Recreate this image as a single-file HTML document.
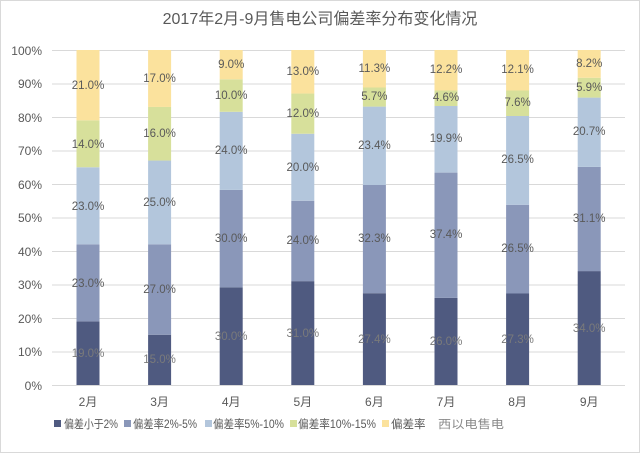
<!DOCTYPE html>
<html><head><meta charset="utf-8"><style>
html,body{margin:0;padding:0;background:#fff}
svg{display:block;font-family:"Liberation Sans","Noto Sans CJK SC",sans-serif}
</style></head><body>
<svg width="640" height="453" viewBox="0 0 640 453" xmlns="http://www.w3.org/2000/svg">
<rect x="0.5" y="0.5" width="639" height="452" fill="#fff" stroke="#d9d9d9"/>
<text x="320" y="24" text-anchor="middle" font-size="16" fill="#595959">2017年2月-9月售电公司偏差率分布变化情况</text>
<g stroke="#d9d9d9" stroke-width="1">
<line x1="52" x2="625" y1="50.5" y2="50.5"/><line x1="52" x2="625" y1="84" y2="84"/><line x1="52" x2="625" y1="117.5" y2="117.5"/><line x1="52" x2="625" y1="151" y2="151"/><line x1="52" x2="625" y1="184.5" y2="184.5"/><line x1="52" x2="625" y1="218" y2="218"/><line x1="52" x2="625" y1="251.5" y2="251.5"/><line x1="52" x2="625" y1="285" y2="285"/><line x1="52" x2="625" y1="318.5" y2="318.5"/><line x1="52" x2="625" y1="352" y2="352"/><line x1="52" x2="625" y1="385.5" y2="385.5"/>
</g>
<g font-size="12" fill="#595959" text-anchor="end">
<text x="42" y="55">100%</text><text x="42" y="88">90%</text><text x="42" y="122">80%</text><text x="42" y="155">70%</text><text x="42" y="189">60%</text><text x="42" y="222">50%</text><text x="42" y="256">40%</text><text x="42" y="289">30%</text><text x="42" y="323">20%</text><text x="42" y="356">10%</text><text x="42" y="390">0%</text>
</g>
<g>
<rect x="76.5" y="321.35" width="23" height="63.65" fill="#4f5a80"/><rect x="76.5" y="244.3" width="23" height="77.05" fill="#8a97b9"/><rect x="76.5" y="167.25" width="23" height="77.05" fill="#b3c6dc"/><rect x="76.5" y="120.35" width="23" height="46.9" fill="#d7e09b"/><rect x="76.5" y="50" width="23" height="70.35" fill="#fbe29d"/>
<rect x="148.1" y="334.75" width="23" height="50.25" fill="#4f5a80"/><rect x="148.1" y="244.3" width="23" height="90.45" fill="#8a97b9"/><rect x="148.1" y="160.55" width="23" height="83.75" fill="#b3c6dc"/><rect x="148.1" y="106.95" width="23" height="53.6" fill="#d7e09b"/><rect x="148.1" y="50" width="23" height="56.95" fill="#fbe29d"/>
<rect x="219.7" y="287.4" width="23" height="97.6" fill="#4f5a80"/><rect x="219.7" y="189.9" width="23" height="97.5" fill="#8a97b9"/><rect x="219.7" y="111.8" width="23" height="78.1" fill="#b3c6dc"/><rect x="219.7" y="79.3" width="23" height="32.5" fill="#d7e09b"/><rect x="219.7" y="50" width="23" height="29.3" fill="#fbe29d"/>
<rect x="291.3" y="281.15" width="23" height="103.85" fill="#4f5a80"/><rect x="291.3" y="200.75" width="23" height="80.4" fill="#8a97b9"/><rect x="291.3" y="133.75" width="23" height="67" fill="#b3c6dc"/><rect x="291.3" y="93.55" width="23" height="40.2" fill="#d7e09b"/><rect x="291.3" y="50" width="23" height="43.55" fill="#fbe29d"/>
<rect x="362.9" y="293.2" width="23" height="91.8" fill="#4f5a80"/><rect x="362.9" y="185" width="23" height="108.2" fill="#8a97b9"/><rect x="362.9" y="106.6" width="23" height="78.4" fill="#b3c6dc"/><rect x="362.9" y="87.5" width="23" height="19.1" fill="#d7e09b"/><rect x="362.9" y="50" width="23" height="37.5" fill="#fbe29d"/>
<rect x="434.5" y="297.9" width="23" height="87.1" fill="#4f5a80"/><rect x="434.5" y="172.6" width="23" height="125.3" fill="#8a97b9"/><rect x="434.5" y="106" width="23" height="66.6" fill="#b3c6dc"/><rect x="434.5" y="90.5" width="23" height="15.5" fill="#d7e09b"/><rect x="434.5" y="50" width="23" height="40.5" fill="#fbe29d"/>
<rect x="506.1" y="293.5" width="23" height="91.5" fill="#4f5a80"/><rect x="506.1" y="204.8" width="23" height="88.7" fill="#8a97b9"/><rect x="506.1" y="116" width="23" height="88.8" fill="#b3c6dc"/><rect x="506.1" y="90.5" width="23" height="25.5" fill="#d7e09b"/><rect x="506.1" y="50" width="23" height="40.5" fill="#fbe29d"/>
<rect x="577.7" y="271.1" width="23" height="113.9" fill="#4f5a80"/><rect x="577.7" y="166.9" width="23" height="104.2" fill="#8a97b9"/><rect x="577.7" y="97.6" width="23" height="69.3" fill="#b3c6dc"/><rect x="577.7" y="77.8" width="23" height="19.8" fill="#d7e09b"/><rect x="577.7" y="50" width="23" height="27.8" fill="#fbe29d"/>
</g>
<g font-size="11.5" fill="#595959" text-anchor="middle">
<g fill="#7a7a7a"><text x="88" y="357">19.0%</text><text x="159.6" y="363">15.0%</text><text x="231.2" y="340">30.0%</text><text x="302.8" y="337">31.0%</text><text x="374.4" y="343">27.4%</text><text x="446" y="345">26.0%</text><text x="517.6" y="343">27.3%</text><text x="589.2" y="332">34.0%</text></g>
<text x="88" y="287">23.0%</text><text x="88" y="210">23.0%</text><text x="88" y="148">14.0%</text><text x="88" y="89">21.0%</text>
<text x="159.6" y="293">27.0%</text><text x="159.6" y="206">25.0%</text><text x="159.6" y="137">16.0%</text><text x="159.6" y="82">17.0%</text>
<text x="231.2" y="242">30.0%</text><text x="231.2" y="154">24.0%</text><text x="231.2" y="99">10.0%</text><text x="231.2" y="68">9.0%</text>
<text x="302.8" y="244">24.0%</text><text x="302.8" y="171">20.0%</text><text x="302.8" y="117">12.0%</text><text x="302.8" y="75">13.0%</text>
<text x="374.4" y="242">32.3%</text><text x="374.4" y="149">23.4%</text><text x="374.4" y="100">5.7%</text><text x="374.4" y="72">11.3%</text>
<text x="446" y="238">37.4%</text><text x="446" y="142">19.9%</text><text x="446" y="101">4.6%</text><text x="446" y="73">12.2%</text>
<text x="517.6" y="252">26.5%</text><text x="517.6" y="163">26.5%</text><text x="517.6" y="106">7.6%</text><text x="517.6" y="73">12.1%</text>
<text x="589.2" y="222">31.1%</text><text x="589.2" y="135">20.7%</text><text x="589.2" y="91">5.9%</text><text x="589.2" y="67">8.2%</text>
</g>
<g font-size="12" fill="#595959" text-anchor="middle">
<text x="88" y="406">2月</text><text x="159.6" y="406">3月</text><text x="231.2" y="406">4月</text><text x="302.8" y="406">5月</text><text x="374.4" y="406">6月</text><text x="446" y="406">7月</text><text x="517.6" y="406">8月</text><text x="589.2" y="406">9月</text>
</g>
<g font-size="11.5" fill="#595959">
<rect x="54" y="420" width="7" height="7" fill="#4f5a80"/><text x="64" y="428" textLength="54" lengthAdjust="spacingAndGlyphs">偏差小于2%</text>
<rect x="124" y="420" width="7" height="7" fill="#8a97b9"/><text x="133" y="428" textLength="64" lengthAdjust="spacingAndGlyphs">偏差率2%-5%</text>
<rect x="205" y="420" width="7" height="7" fill="#b3c6dc"/><text x="213" y="428" textLength="71" lengthAdjust="spacingAndGlyphs">偏差率5%-10%</text>
<rect x="290" y="420" width="7" height="7" fill="#d7e09b"/><text x="298" y="428" textLength="78" lengthAdjust="spacingAndGlyphs">偏差率10%-15%</text>
<rect x="382" y="420" width="7" height="7" fill="#fbe29d"/><text x="391" y="428">偏差率</text>
<text x="438" y="428" fill="#8a8a8a" textLength="66" lengthAdjust="spacingAndGlyphs">西以电售电</text>
</g>
</svg>
</body></html>
